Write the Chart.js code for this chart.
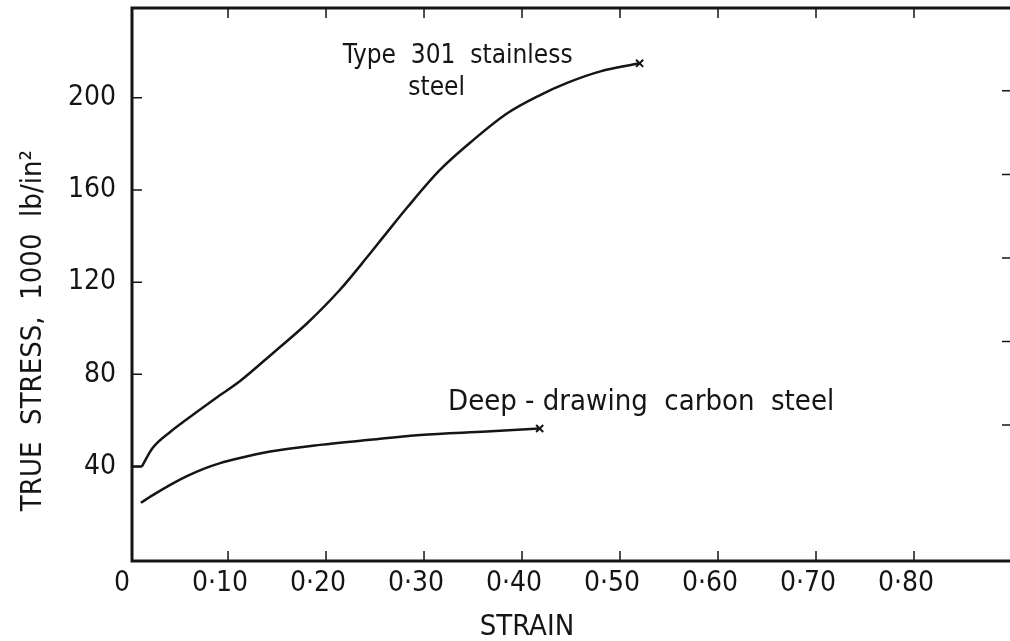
<!DOCTYPE html>
<html>
<head>
<meta charset="utf-8">
<title>True stress vs strain</title>
<script src="https://cdn.jsdelivr.net/npm/chart.js@4/dist/chart.umd.min.js"></script>
<style>
  html, body { margin: 0; padding: 0; background: #fff; overflow: hidden; }
  #wrap { width: 1024px; height: 641px; }
</style>
</head>
<body>
<div id="wrap"><canvas id="stressChart" width="1024" height="641"></canvas></div>
<script>
/* ======================================
   DATA
====================================== */
// Type 301 stainless steel (short flat lead-in, then the hardening curve)
const strain301Start = [0.003, 0.012];
const stress301Start = [40, 40];
const strain301 = [0.012, 0.023, 0.041, 0.058, 0.074, 0.092, 0.112, 0.146, 0.181, 0.214, 0.242, 0.262, 0.283, 0.316, 0.350, 0.385, 0.418, 0.446, 0.480, 0.520];
const stress301 = [40, 48, 55, 60.5, 65.5, 71, 77, 89.3, 102.3, 116.6, 130.9, 141.5, 152.5, 168.6, 181.6, 193.3, 201.1, 206.5, 211.5, 215];

// deep-drawing carbon steel
const strainCarbon = [0.011, 0.025, 0.041, 0.058, 0.075, 0.092, 0.110, 0.143, 0.194, 0.245, 0.296, 0.364, 0.418];
const stressCarbon = [24.3, 28.0, 32.0, 35.8, 39.0, 41.5, 43.5, 46.5, 49.4, 51.6, 53.7, 55.2, 56.5];

// axis ticks
const xTicks = [0, 0.1, 0.2, 0.3, 0.4, 0.5, 0.6, 0.7, 0.8];
const xTickLabels = ["0", "0·10", "0·20", "0·30", "0·40", "0·50", "0·60", "0·70", "0·80"];
const yTicks = [40, 80, 120, 160, 200];
const yTickLabels = ["40", "80", "120", "160", "200"];

// unlabelled right-hand ticks, MN/m^2
const rightTicksMN = [400, 650, 900, 1150, 1400];
const MN_PER_KSI = 6.895;

const FONT = "'Liberation Sans Narrow', 'DejaVu Sans Condensed', 'Open Sans', sans-serif";
const INK = "#151515";

/* ======================================
   FRAME, INWARD TICKS AND LABELS
====================================== */
const paperPlugin = {
    id: "paper",
    afterDatasetsDraw(chart) {
        const { ctx, chartArea: a, scales: { x, y } } = chart;
        ctx.save();
        ctx.strokeStyle = INK;

        // frame
        ctx.lineWidth = 3;
        ctx.strokeRect(a.left, a.top, a.right - a.left, a.bottom - a.top);

        // short ticks pointing into the plot
        ctx.lineWidth = 1.5;
        ctx.beginPath();
        xTicks.slice(1).forEach(v => {
            const px = x.getPixelForValue(v);
            ctx.moveTo(px, a.bottom); ctx.lineTo(px, a.bottom - 10);
            ctx.moveTo(px, a.top);    ctx.lineTo(px, a.top + 10);
        });
        yTicks.forEach(v => {
            const py = y.getPixelForValue(v);
            ctx.moveTo(a.left, py); ctx.lineTo(a.left + 10, py);
        });
        rightTicksMN.forEach(v => {
            const py = y.getPixelForValue(v / MN_PER_KSI);
            ctx.moveTo(a.right, py); ctx.lineTo(a.right - 10, py);
        });
        ctx.stroke();

        // curve labels
        ctx.fillStyle = INK;
        ctx.textBaseline = "alphabetic";
        ctx.textAlign = "left";
        ctx.font = "26px " + FONT;
        ctx.fillText("Type  301  stainless", x.getPixelForValue(0.217), y.getPixelForValue(215));
        ctx.fillText("steel", x.getPixelForValue(0.284), y.getPixelForValue(201.3));
        ctx.font = "29px " + FONT;
        ctx.fillText("Deep - drawing  carbon  steel", x.getPixelForValue(0.3245), y.getPixelForValue(64.6));

        // axis titles
        ctx.textAlign = "center";
        ctx.fillText("STRAIN", x.getPixelForValue(0.405), a.bottom + 74);

        ctx.translate(a.left - 99, y.getPixelForValue(99));
        ctx.rotate(-Math.PI / 2);
        ctx.textBaseline = "middle";
        ctx.fillText("TRUE  STRESS,  1000  lb/in²", 0, 0);
        ctx.restore();
    }
};

/* ======================================
   CHART
====================================== */
function toPoints(xs, ys) {
    return xs.map((v, i) => ({ x: v, y: ys[i] }));
}

function endMarker(ctx) {
    return ctx.dataIndex === ctx.dataset.data.length - 1 ? 5 : 0;
}

function curve(label, xs, ys, marker) {
    return {
        label,
        data: toPoints(xs, ys),
        borderColor: INK,
        borderWidth: 2.5,
        cubicInterpolationMode: "monotone",
        pointStyle: "crossRot",
        pointRadius: marker ? endMarker : 0,
        pointBorderColor: INK,
        pointBorderWidth: 2
    };
}

const ctx = document.getElementById("stressChart").getContext("2d");

new Chart(ctx, {
    type: "line",
    data: {
        datasets: [
            curve("Type 301 stainless steel (yield)", strain301Start, stress301Start, false),
            curve("Type 301 stainless steel", strain301, stress301, true),
            curve("Deep-drawing carbon steel", strainCarbon, stressCarbon, true)
        ]
    },
    options: {
        responsive: false,
        animation: false,
        layout: { padding: { top: 8, right: 12, left: 0, bottom: 0 } },
        plugins: {
            legend: { display: false },
            tooltip: { enabled: false }
        },
        scales: {
            x: {
                type: "linear",
                min: 0.002,
                max: 0.9,
                grid: { display: false },
                border: { display: false },
                afterBuildTicks: s => { s.ticks = xTicks.map(v => ({ value: v })); },
                afterFit: s => { s.height = 80; s.paddingLeft = 0; s.paddingRight = 0; },
                ticks: {
                    color: INK,
                    font: { family: FONT, size: 28 },
                    padding: -2,
                    labelOffset: -8,
                    maxRotation: 0,
                    autoSkip: false,
                    callback: (v, i) => xTickLabels[i]
                }
            },
            y: {
                min: -1,
                max: 239,
                grid: { display: false },
                border: { display: false },
                afterBuildTicks: s => { s.ticks = yTicks.map(v => ({ value: v })); },
                afterFit: s => { s.width = 132; s.paddingTop = 0; s.paddingBottom = 0; },
                ticks: {
                    color: INK,
                    font: { family: FONT, size: 28 },
                    padding: 8,
                    autoSkip: false,
                    callback: (v, i) => yTickLabels[i]
                }
            }
        }
    },
    plugins: [paperPlugin]
});
</script>
</body>
</html>
